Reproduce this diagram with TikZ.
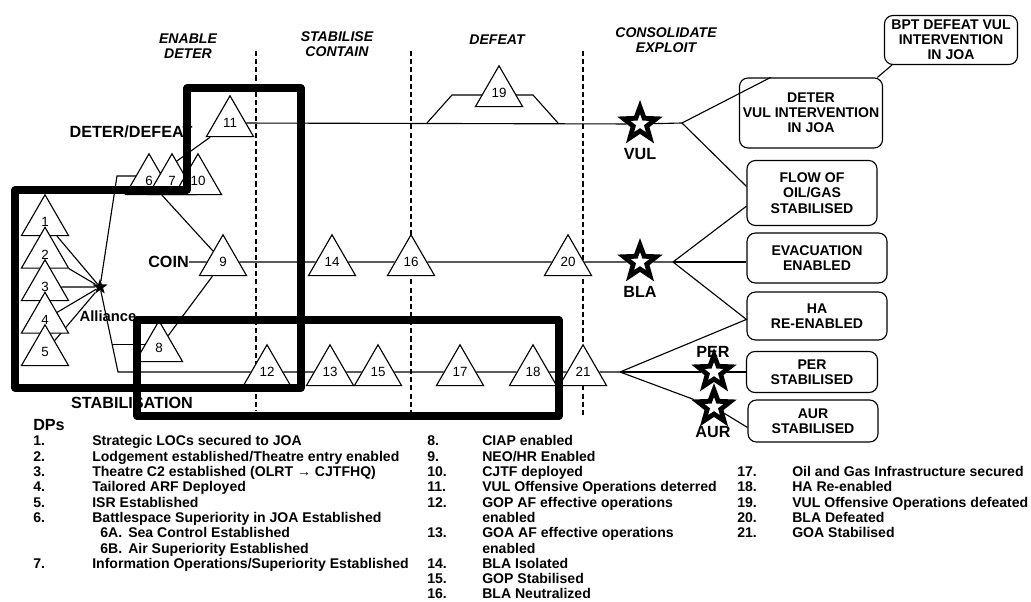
\documentclass[tikz,border=0pt]{standalone}
\usepackage{fontspec}
\setmainfont{Liberation Sans}
\usetikzlibrary{positioning,shapes.geometric,backgrounds,calc}

\begin{document}
\begin{tikzpicture}[x=0.025cm, y=-0.025cm,
  dp/.style={draw, fill=white, regular polygon, regular polygon sides=3, minimum size=1.36cm, inner sep=0pt, line width=0.8pt, font=\fontsize{9.5}{9.5}\selectfont},
  lead/.style={line width=0.8pt},
  divider/.style={line width=1pt, dash pattern=on 3.6pt off 2.2pt},
  phase/.style={align=center, font=\fontsize{10}{10.8}\selectfont\bfseries\itshape},
  axis/.style={font=\fontsize{11.5}{12}\selectfont\bfseries, inner sep=0pt},
  goal/.style={draw, rounded corners=6pt, align=center, inner sep=0pt, line width=0.8pt, font=\fontsize{10}{10.8}\selectfont\bfseries},
  actor/.style={star, star points=5, star point ratio=2.4, draw, fill=white, line width=3.4pt, minimum size=0.85cm, inner sep=0pt},
  zone/.style={line width=5pt, line join=round},
  legend/.style={anchor=north west, inner sep=0pt, font=\fontsize{10}{10.88}\selectfont\bfseries}]
  \useasboundingbox (0,0) rectangle (1031,602);

  \node[phase] (enable) at (188,46) {ENABLE\\DETER};
  \node[phase] (stabilise) at (337,44) {STABILISE\\CONTAIN};
  \node[phase] (defeat) at (497,40) {DEFEAT};
  \node[phase] (consolidate) at (666,40) {CONSOLIDATE\\EXPLOIT};

  \foreach \n [count=\i from 0] in {1,...,5}
    \node[dp] (t\n) at (45,222+32.5*\i) {\n};
  \node[star, star points=5, star point ratio=2.5, fill=black, minimum size=0.4cm, inner sep=0pt] (ally) at (100,287) {};
  \node[font=\fontsize{10.5}{10.5}\selectfont\bfseries, inner sep=0pt] (allylbl) at (108,316) {Alliance};
  \coordinate (c6) at (117,176);
  \coordinate (b0) at (118,372);
  \node[dp] (t6) at (149,181) {6};
  \node[dp] (t7) at (172,181) {7};
  \node[dp] (t10) at (198,181) {10};
  \node[dp] (t11) at (230,123) {11};
  \node[dp] (t8) at (159,348) {8};
  \node[dp] (t9) at (223,262) {9};
  \node[dp] (t14) at (332,262) {14};
  \node[dp] (t16) at (411,262) {16};
  \node[dp] (t20) at (568,262) {20};
  \node[dp] (t12) at (267,372) {12};
  \node[dp] (t13) at (330,372) {13};
  \node[dp] (t15) at (378,372) {15};
  \node[dp] (t17) at (460,372) {17};
  \node[dp] (t18) at (533,372) {18};
  \node[dp] (t21) at (583,372) {21};
  \node[dp] (t19) at (499,93) {19};

  \node[axis] (deterlbl) at (131,132) {DETER/DEFEAT};
  \node[axis, anchor=east] (coin) at (189,262) {COIN};
  \node[axis] (stablbl) at (132,403) {STABILISATION};

  \node[actor] (vul) at (640,124) {};
  \node[actor] (bla) at (640,262) {};
  \node[actor] (per) at (714,372) {};
  \node[actor] (aur) at (714,407) {};
  \node[axis] (vullbl) at (640,154) {VUL};
  \node[axis] (blalbl) at (640,292) {BLA};
  \node[axis] (perlbl) at (713,352) {PER};
  \node[axis] (aurlbl) at (713,432) {AUR};
  \coordinate (vulfork) at (682,123);
  \coordinate (blafork) at (673,262);
  \coordinate (stabfork) at (620,372);

  \node[goal, minimum width=3.325cm, minimum height=1.225cm] (bpt) at (951,40) {BPT DEFEAT VUL\\INTERVENTION\\IN JOA};
  \node[goal, minimum width=3.575cm, minimum height=1.75cm] (deter) at (811,113) {DETER\\VUL INTERVENTION\\IN JOA};
  \node[goal, minimum width=3.25cm, minimum height=1.625cm] (flow) at (812,193) {FLOW OF\\OIL/GAS\\STABILISED};
  \node[goal, minimum width=3.5cm, minimum height=1.25cm] (evac) at (817,258) {EVACUATION\\ENABLED};
  \node[goal, minimum width=3.5cm, minimum height=1.2cm] (hare) at (817,316) {HA\\RE-ENABLED};
  \node[goal, minimum width=3.275cm, minimum height=1.025cm] (perbox) at (812,372) {PER\\STABILISED};
  \node[goal, minimum width=3.25cm, minimum height=1.05cm] (aurbox) at (813,421) {AUR\\STABILISED};

  \begin{scope}[on background layer]
    \foreach \x/\b in {256/410, 411/415, 583/415}
      \draw[divider] (\x,51) -- (\x,\b);
    \foreach \n in {1,...,5}
      \draw[lead] (ally) -- (t\n);
    \draw[lead] (ally) -- (c6) -- (c6 -| t6);
    \draw[lead] (t6) -- (t11);
    \draw[lead] (t6) -- (t9);
    \draw[lead] (ally) -- (b0) -- (t12) -- (t13) -- (t15) -- (t17) -- (t18) -- (t21) -- (stabfork);
    \coordinate (a8) at ($(ally)!0.68!(b0)$);
    \draw[lead] (a8) -- (a8 -| t8);
    \draw[lead] (t8) -- (t9);
    \draw[lead] (coin) -- (t9) -- (t14) -- (t16) -- (t20) -- (bla) -- (blafork);
    \draw[lead] (t11) -- (vul) -- (vulfork);
    \draw[lead] (427,123) -- (452,95) -- (533,95) -- (558,123);
    \draw[lead] (vulfork) -- ($(deter.north west)!0.22!(deter.north east)$);
    \draw[lead] (vulfork) -- ($(flow.north west)!0.4!(flow.south west)$);
    \draw[lead] ($(deter.north west)!0.96!(deter.north east)$) -- ($(bpt.south west)!0.06!(bpt.south east)$);
    \draw[lead] (blafork) -- ($(flow.north west)!0.7!(flow.south west)$);
    \draw[lead] (blafork) -- (blafork -| evac.west);
    \coordinate (hain) at ($(hare.north west)!0.57!(hare.south west)$);
    \draw[lead] (blafork) -- (hain) -- (stabfork);
    \draw[lead] (stabfork) -- (per) -- (stabfork -| perbox.west);
    \draw[lead] (stabfork) -- (aur) -- ($(aurbox.north west)!0.65!(aurbox.south west)$);
  \end{scope}

  \draw[zone] (187,88) -- (301,88) -- (301,388) -- (15,388) -- (15,190) -- (187,190) -- cycle;
  \draw[zone] (137,320) rectangle (559,416);

  \node[axis, anchor=west] (dps) at (33,425) {DPs};
  \node[legend] (legA) at (33,435) {\begin{tabular}{@{}p{1.475cm}@{}l@{}}
    1. & Strategic LOCs secured to JOA\\
    2. & Lodgement established/Theatre entry enabled\\
    3. & Theatre C2 established (OLRT → CJTFHQ)\\
    4. & Tailored ARF Deployed\\
    5. & ISR Established\\
    6. & Battlespace Superiority in JOA Established\\
       & \hspace{0.2cm}\makebox[0.7cm][l]{6A.}Sea Control Established\\
       & \hspace{0.2cm}\makebox[0.7cm][l]{6B.}Air Superiority Established\\
    7. & Information Operations/Superiority Established
  \end{tabular}};
  \node[legend] (legB) at (427,435) {\begin{tabular}{@{}p{1.375cm}@{}l@{}}
    8. & CIAP enabled\\
    9. & NEO/HR Enabled\\
    10. & CJTF deployed\\
    11. & VUL Offensive Operations deterred\\
    12. & GOP AF effective operations\\
        & enabled\\
    13. & GOA AF effective operations\\
        & enabled\\
    14. & BLA Isolated\\
    15. & GOP Stabilised\\
    16. & BLA Neutralized
  \end{tabular}};
  \node[legend] (legC) at (737,465.6) {\begin{tabular}{@{}p{1.375cm}@{}l@{}}
    17. & Oil and Gas Infrastructure secured\\
    18. & HA Re-enabled\\
    19. & VUL Offensive Operations defeated\\
    20. & BLA Defeated\\
    21. & GOA Stabilised
  \end{tabular}};
\end{tikzpicture}
\end{document}
